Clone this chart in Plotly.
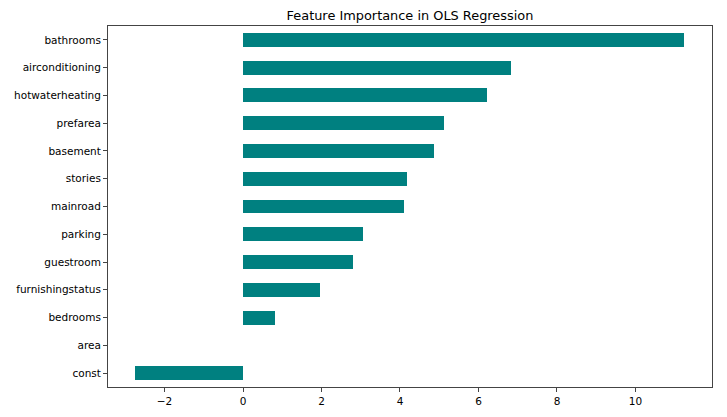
import plotly.graph_objects as go

# feature importance (OLS coefficients), bottom -> top as drawn
features = ["const", "area", "bedrooms", "furnishingstatus", "guestroom", "parking",
            "mainroad", "stories", "basement", "prefarea", "hotwaterheating",
            "airconditioning", "bathrooms"]
importance = [-2.75, 0.0, 0.82, 1.97, 2.79, 3.05, 4.09, 4.18, 4.87, 5.12, 6.21, 6.84, 11.24]

fig = go.Figure()
fig.add_trace(go.Bar(
    x=importance,
    y=features,
    orientation="h",
    width=0.5,
    marker=dict(color="#008080", line=dict(width=0)),
))

# page body has an 8px margin, so the figure is sized to fit inside the window
fig.update_layout(
    width=711, height=401,
    margin=dict(l=100, r=7, t=18, b=22),
    plot_bgcolor="white",
    paper_bgcolor="white",
    font=dict(family="DejaVu Sans", size=10.5, color="black"),
    title=dict(text="Feature Importance in OLS Regression", x=0.5654, xanchor="center",
               y=0.981, yanchor="middle", font=dict(size=12.9, color="black")),
    showlegend=False,
    bargap=0,
)
fig.update_xaxes(
    range=[-3.44, 11.95],
    tickvals=[-2, 0, 2, 4, 6, 8, 10],
    ticktext=["\u22122", "0", "2", "4", "6", "8", "10"],
    showgrid=False, zeroline=False, automargin=False,
    showline=True, linecolor="#444", linewidth=1, mirror=True,
    ticks="outside", ticklen=4, tickcolor="#444",
)
fig.update_yaxes(
    range=[-0.5, 12.5],
    showgrid=False, zeroline=False, automargin=False,
    showline=True, linecolor="#444", linewidth=1, mirror=True,
    ticks="outside", ticklen=4, tickcolor="#444",
)

fig.write_html("out.html")
